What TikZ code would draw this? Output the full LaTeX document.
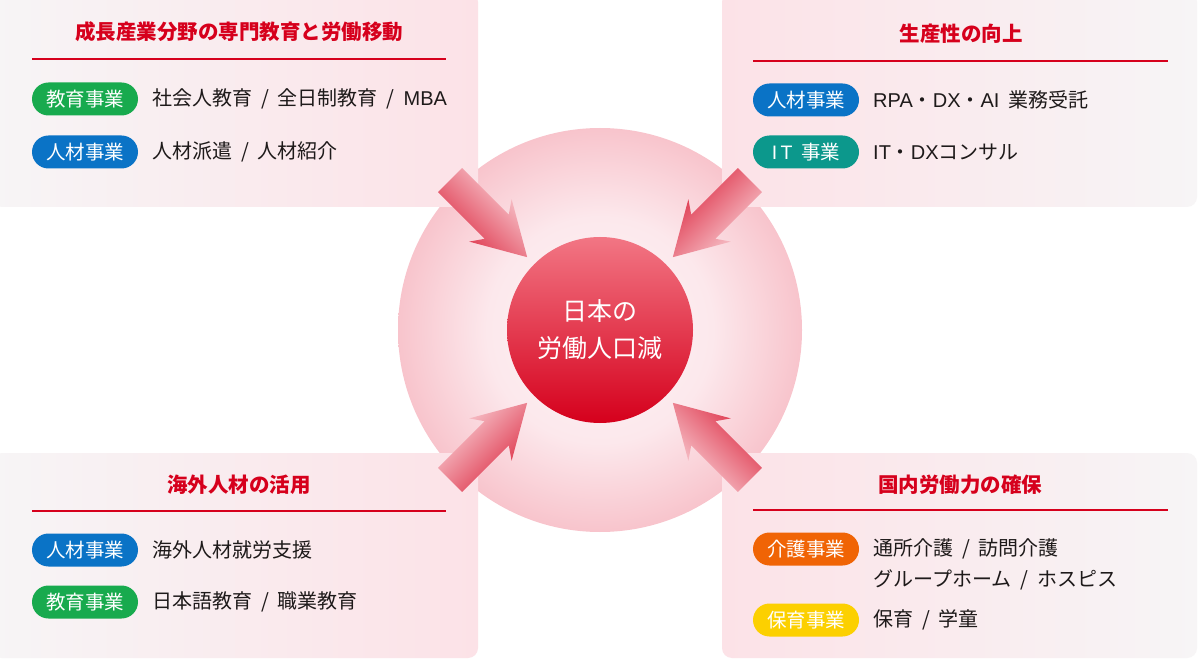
\documentclass[tikz,border=0pt]{standalone}
\usepackage{fontspec}
\setmainfont{Noto Sans CJK JP}[WordSpace=2]
\newfontfamily\latin{Liberation Sans}[WordSpace=1.6]
\definecolor{titlered}{RGB}{214,0,28}
\definecolor{ink}{RGB}{30,26,26}
\definecolor{edugreen}{RGB}{24,170,78}
\definecolor{hrblue}{RGB}{10,115,198}
\definecolor{itteal}{RGB}{12,152,140}
\definecolor{careorange}{RGB}{240,100,5}
\definecolor{kidsyellow}{RGB}{252,208,0}
\definecolor{panelgray}{RGB}{247,245,246}
\definecolor{panelpink}{RGB}{252,226,231}
\definecolor{ringin}{RGB}{254,244,246}
\definecolor{ringmid}{RGB}{252,232,236}
\definecolor{ringout}{RGB}{248,196,204}
\definecolor{arrowtail}{RGB}{250,214,219}
\definecolor{arrowtip}{RGB}{220,40,64}
\definecolor{coretop}{RGB}{242,118,132}
\definecolor{corebottom}{RGB}{213,0,28}
\pgfdeclareradialshading{ringglow}{\pgfpoint{0bp}{0bp}}{color(0bp)=(ringin); color(14bp)=(ringmid); color(25bp)=(ringout); color(50bp)=(ringout)}

\begin{document}
\begin{tikzpicture}[x=1pt, y=-1pt,
		panel/.style={rounded corners=10, minimum height=215, inner sep=0},
		title/.style={text=titlered, inner sep=0, font=\bfseries\fontsize{20.5}{21}\selectfont},
		tag/.style={rounded corners=16.5, minimum width=106, minimum height=33, inner sep=0, text=white, font=\fontsize{19.5}{20}\selectfont},
		item/.style={anchor=west, inner sep=0, text=ink, align=left, font=\fontsize{20}{31}\selectfont},
		rule/.style={titlered, line width=1.1},
		arrowfill/.style={left color=arrowtail, right color=arrowtip}]
		\useasboundingbox (0,0) rectangle (1200,660);
		\fill[white] (0,0) rectangle (1200,660);
		
		% ring in the back
		\node[circle, minimum size=404, shading=ringglow] (ring)at(600,330) {};
		
		% the four panels
		\node[panel, minimum width=486, left color=panelgray, right color=panelpink] (tlbox)at(235,99.5) {};
		\node[panel, minimum width=475, left color=panelpink, right color=panelgray] (trbox)at(959.5,99.5) {};
		\node[panel, minimum width=486, minimum height=205, left color=panelgray, right color=panelpink] (blbox)at(235,555.5) {};
		\node[panel, minimum width=475, minimum height=205, left color=panelpink, right color=panelgray] (brbox)at(959.5,555.5) {};
		
		% top left
		\node[title] (tltitle)at(239,32) {成長産業分野の専門教育と労働移動};
		\coordinate (tlA)at(32,59);
		\coordinate (tlB)at(446,59);
		\draw[rule] (tlA) -- (tlB);
		\node[tag, fill=edugreen] (tltag1)at(85,99) {教育事業};
		\node[item] (tlitem1)at(152,99) {社会人教育 / 全日制教育 / {\latin MBA}};
		\node[tag, fill=hrblue] (tltag2)at(85,152) {人材事業};
		\node[item] (tlitem2)at(152,152) {人材派遣 / 人材紹介};
		
		% top right
		\node[title] (trtitle)at(961,34) {生産性の向上};
		\coordinate (trA)at(753,61);
		\coordinate (trB)at(1168,61);
		\draw[rule] (trA) -- (trB);
		\node[tag, fill=hrblue] (trtag1)at(806,100) {人材事業};
		\node[item] (tritem1)at(873,100) {{\latin RPA}・{\latin DX}・{\latin AI }業務受託};
		\node[tag, fill=itteal] (trtag2)at(806,152) {{\latin I\,T }事業};
		\node[item] (tritem2)at(873,152) {{\latin IT}・{\latin DX}コンサル};
		
		% bottom left
		\node[title] (bltitle)at(239,485) {海外人材の活用};
		\coordinate (blA)at(32,511);
		\coordinate (blB)at(446,511);
		\draw[rule] (blA) -- (blB);
		\node[tag, fill=hrblue] (bltag1)at(85,550) {人材事業};
		\node[item] (blitem1)at(152,550) {海外人材就労支援};
		\node[tag, fill=edugreen] (bltag2)at(85,602) {教育事業};
		\node[item] (blitem2)at(152,602) {日本語教育 / 職業教育};
		
		% bottom right
		\node[title] (brtitle)at(960,485) {国内労働力の確保};
		\coordinate (brA)at(753,510);
		\coordinate (brB)at(1168,510);
		\draw[rule] (brA) -- (brB);
		\node[tag, fill=careorange] (brtag1)at(806,549) {介護事業};
		\node[item, anchor=north west] (britem1)at(873,538) {通所介護 / 訪問介護\\グループホーム / ホスピス};
		\node[tag, fill=kidsyellow] (brtag2)at(806,620) {保育事業};
		\node[item] (britem2)at(873,620) {保育 / 学童};
		
		% arrows pointing at the core
		\shade[arrowfill, shading angle=-45, shift={(ring.center)}, rotate=135] (103,0) -- (155,30) -- (146,17) -- (212,17) -- (212,-17) -- (146,-17) -- (155,-30) -- cycle;
		\shade[arrowfill, shading angle=-135, shift={(ring.center)}, rotate=45] (103,0) -- (155,30) -- (146,17) -- (212,17) -- (212,-17) -- (146,-17) -- (155,-30) -- cycle;
		\shade[arrowfill, shading angle=45, shift={(ring.center)}, rotate=-135] (103,0) -- (155,30) -- (146,17) -- (212,17) -- (212,-17) -- (146,-17) -- (155,-30) -- cycle;
		\shade[arrowfill, shading angle=135, shift={(ring.center)}, rotate=-45] (103,0) -- (155,30) -- (146,17) -- (212,17) -- (212,-17) -- (146,-17) -- (155,-30) -- cycle;
		
		\node[circle, minimum size=186, top color=coretop, bottom color=corebottom, text=white, align=center, font=\fontsize{25}{37}\selectfont] (core)at(ring.center) {日本の\\労働人口減};
	\end{tikzpicture}
\end{document}
